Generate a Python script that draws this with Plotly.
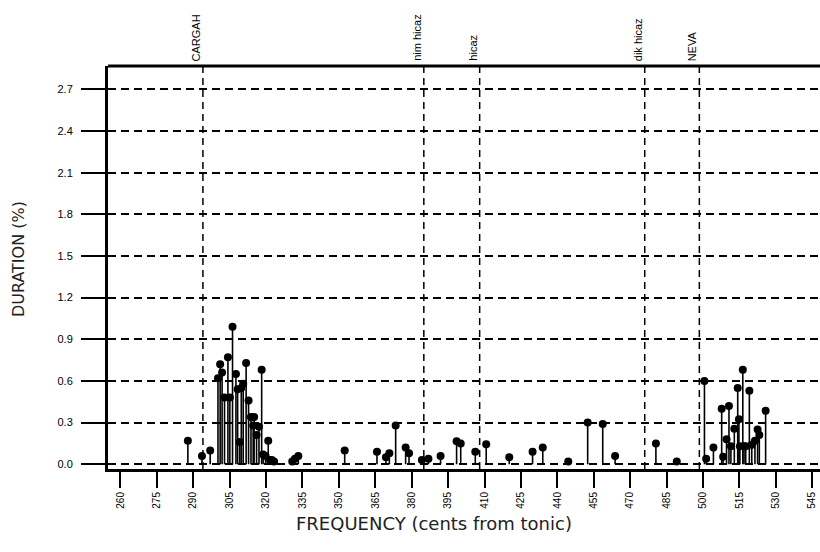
import plotly.graph_objects as go

# ---- data ----
freq = [287.8, 293.6, 297.0, 300.2, 301.1, 301.9, 302.9, 304.3, 305.1, 306.2,
        307.6, 308.3, 309.2, 309.8, 310.6, 311.8, 312.8, 313.8, 314.7, 315.1,
        316.1, 317.1, 318.2, 318.8, 319.8, 320.9, 321.6, 322.4, 323.3,
        330.8, 331.9, 333.3, 352.4, 365.7, 369.4, 370.8, 373.4, 377.5, 378.9,
        384.2, 386.9, 391.9, 398.5, 400.2, 406.2, 410.7, 420.2, 429.8, 434.0,
        444.5, 452.5, 458.7, 463.8, 480.6, 489.2,
        500.6, 501.3, 504.3, 507.7, 508.3, 509.7, 510.7, 511.5, 512.9, 514.3,
        514.8, 515.2, 516.4, 516.9, 517.6, 519.1, 520.1, 521.4, 522.5, 523.2, 525.8]
duration = [0.17, 0.06, 0.10, 0.62, 0.72, 0.66, 0.48, 0.77, 0.48, 0.99,
            0.65, 0.54, 0.16, 0.55, 0.58, 0.73, 0.46, 0.34, 0.28, 0.34,
            0.21, 0.27, 0.68, 0.07, 0.06, 0.17, 0.03, 0.03, 0.02,
            0.02, 0.04, 0.06, 0.10, 0.09, 0.05, 0.08, 0.28, 0.12, 0.08,
            0.03, 0.04, 0.06, 0.165, 0.15, 0.09, 0.145, 0.05, 0.09, 0.12,
            0.02, 0.30, 0.29, 0.06, 0.15, 0.02,
            0.60, 0.04, 0.12, 0.40, 0.055, 0.18, 0.42, 0.13, 0.255, 0.55,
            0.325, 0.13, 0.68, 0.13, 0.13, 0.53, 0.14, 0.17, 0.25, 0.21, 0.385]

note_names = ["CARGAH", "nim hicaz", "hicaz", "dik hicaz", "NEVA"]
note_cents = [294, 385, 408, 476, 498.5]

x_ticks = list(range(260, 546, 15))
y_ticks = [0.0, 0.3, 0.6, 0.9, 1.2, 1.5, 1.8, 2.1, 2.4, 2.7]

# ---- stems ----
sx, sy = [], []
for f, d in zip(freq, duration):
    sx += [f, f, None]
    sy += [0, d, None]

fig = go.Figure()
fig.add_trace(go.Scatter(x=sx, y=sy, mode="lines",
                         line=dict(color="black", width=1.6),
                         hoverinfo="skip", showlegend=False))
fig.add_trace(go.Scatter(x=freq, y=duration, mode="markers",
                         marker=dict(color="black", size=8),
                         showlegend=False))

# note reference lines and labels
for name, c in zip(note_names, note_cents):
    fig.add_shape(type="line", xref="x", yref="paper", x0=c, x1=c, y0=0, y1=1,
                  line=dict(color="black", width=1.5, dash="7px,5px"), layer="below")
    fig.add_annotation(x=c, y=1, xref="x", yref="paper", text=name,
                       textangle=-90, showarrow=False, xanchor="right",
                       yanchor="bottom", yshift=3, xshift=1,
                       font=dict(family="Liberation Sans, Arial", size=11, color="black"))

# top frame line
fig.add_shape(type="line", xref="paper", yref="paper", x0=0, x1=1, y0=1, y1=1,
              line=dict(color="black", width=3))

fig.add_annotation(x=0.458, y=-0.166, xref="paper", yref="paper",
                   text="FREQUENCY (cents from tonic)", showarrow=False,
                   font=dict(family="DejaVu Sans", size=18, color="#222"))
fig.add_annotation(x=-0.127, y=0.521, xref="paper", yref="paper", xshift=-11,
                   text="DURATION (%)", textangle=-90, showarrow=False,
                   font=dict(family="DejaVu Sans", size=16, color="#222"))

fig.update_layout(
    width=820, height=552,
    margin=dict(l=108, r=0, t=66, b=83),
    paper_bgcolor="white", plot_bgcolor="white",
    font=dict(family="Liberation Sans, Arial", color="black"),
    xaxis=dict(range=[254.9, 548.2], tickvals=x_ticks,
               ticktext=[str(v) for v in x_ticks], tickangle=-90,
               ticks="outside", ticklen=16, tickwidth=1.5, tickcolor="black",
               showline=True, linewidth=3, linecolor="black",
               showgrid=False, zeroline=False,
               tickfont=dict(size=10)),
    yaxis=dict(range=[-0.034, 2.868], tickvals=y_ticks,
               ticktext=[f"{v:.1f}" for v in y_ticks],
               ticks="outside", ticklen=24, tickwidth=1.5, tickcolor="black",
               showline=True, linewidth=3, linecolor="black",
               showgrid=True, gridcolor="black", gridwidth=1.5, griddash="8px,5px",
               zeroline=False, ticklabelstandoff=6,
               tickfont=dict(size=11)),
)

fig.write_html("out.html")
